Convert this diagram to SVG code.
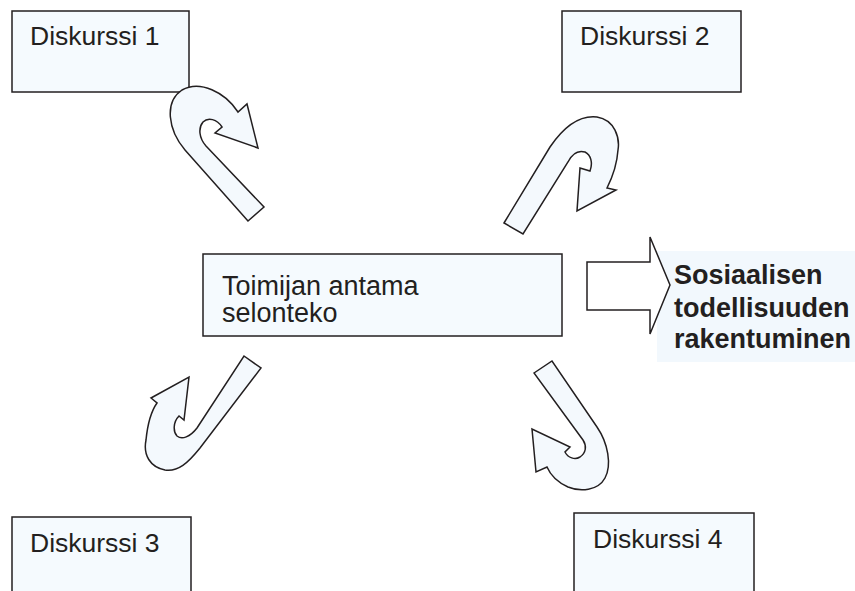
<svg xmlns="http://www.w3.org/2000/svg" width="855" height="591" viewBox="0 0 855 591">
<style>
.box{fill:#f5fafe;stroke:#231f20;stroke-width:1.5}
.arr{fill:#f4f9fd;stroke:#231f20;stroke-width:1.5;stroke-linejoin:miter}
.t{font-family:"Liberation Sans",Arial,sans-serif;font-size:26.5px;fill:#231f20}
.c{font-family:"Liberation Sans",Arial,sans-serif;font-size:27px;fill:#231f20}
.b{font-family:"Liberation Sans",Arial,sans-serif;font-size:27px;font-weight:bold;fill:#231f20}
</style>
<rect width="855" height="591" fill="#ffffff"/>
<g id="d1"><rect class="box" x="12" y="11" width="177" height="81"/><text class="t" x="30" y="45">Diskurssi 1</text></g>
<g id="d2"><rect class="box" x="562" y="11" width="179" height="81"/><text class="t" x="580" y="45">Diskurssi 2</text></g>
<g id="d3"><rect class="box" x="12" y="517" width="179" height="90"/><text class="t" x="30" y="552">Diskurssi 3</text></g>
<g id="d4"><rect class="box" x="574" y="513" width="180" height="94"/><text class="t" x="593" y="548">Diskurssi 4</text></g>
<g id="center"><rect class="box" x="203" y="254" width="359" height="82"/><text class="c" x="222" y="295">Toimijan antama</text><text class="c" x="222" y="322">selonteko</text></g>
<g id="result"><rect x="657" y="251" width="198" height="111" fill="#f2f8fd"/><text class="b" x="674" y="284">Sosiaalisen</text><text class="b" x="674" y="317">todellisuuden</text><text class="b" x="674" y="348">rakentuminen</text></g>
<g id="connectors">
<path class="arr" style="fill:#ffffff" d="M587,262 L650,262 L650,237 L670,285 L650,334 L650,310 L587,310 Z"/>
<path class="arr" d="M248,221 L185,150 C168,130 164,102 182,90 C200,80 225,92 238,112 L247,104 L258,148 L215,133 L222,127 C217,119 208,117 203,122 C198,128 199,138 206,146 L264,207 Z"/>
<path class="arr" d="M504,223 L550,147 C565,125 580,115 597,117 C615,120 620,138 618,150 C617,165 612,178 607,188 L616,190 L577,211 L580,168 L590,171 C593,163 591,155 585,152 C578,150 572,154 568,162 L523,234 Z"/>
<path class="arr" d="M244,356 L261,368 L200,448 C188,463 178,472 165,470 C150,467 143,455 146,440 C148,420 152,410 157,403 L151,398 L189,377 L184,420 L179,416 C173,422 173,432 177,436 C182,440 190,437 197,428 Z"/>
<path class="arr" d="M534,373 L552,361 L597,427 C608,443 612,465 605,478 C598,491 580,492 568,487 C557,482 550,474 547,467 L536,472 L532,429 L570,447 L565,452 C568,458 575,460 580,457 C586,453 587,446 583,440 Z"/>
</g>
</svg>
